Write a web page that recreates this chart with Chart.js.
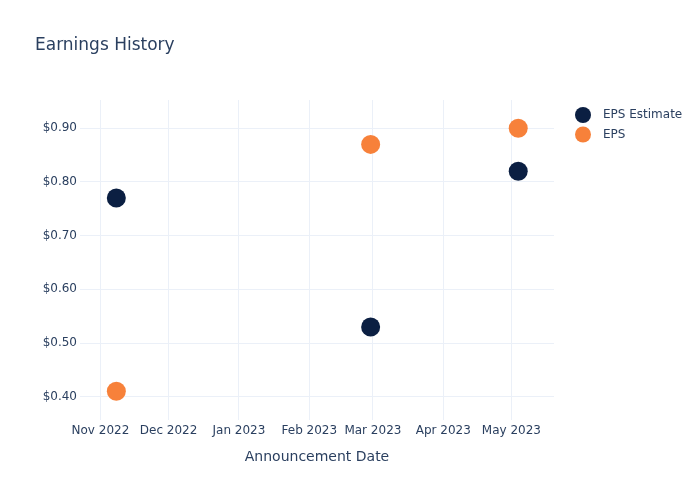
<!DOCTYPE html>
<html>
<head>
<meta charset="utf-8">
<script src="https://cdn.jsdelivr.net/npm/chart.js@4.4.0/dist/chart.umd.min.js"></script>
<style>
  html, body { margin: 0; padding: 0; background: #fff; }
  #wrap { width: 700px; height: 500px; }
</style>
</head>
<body>
<div id="wrap"><canvas id="epsChart" width="700" height="500"></canvas></div>
<script>
// announcement dates and values
const dates = ['2022-11-08', '2023-02-28', '2023-05-04'];
const epsEstimate = [0.77, 0.53, 0.82];
const epsActual = [0.41, 0.87, 0.90];

// axis ticks
const xTickDates = ['2022-11-01', '2022-12-01', '2023-01-01', '2023-02-01', '2023-03-01', '2023-04-01', '2023-05-01'];
const xTickLabels = ['Nov 2022', 'Dec 2022', 'Jan 2023', 'Feb 2023', 'Mar 2023', 'Apr 2023', 'May 2023'];
const yTicks = [0.4, 0.5, 0.6, 0.7, 0.8, 0.9];
const yTickLabels = ['$0.40', '$0.50', '$0.60', '$0.70', '$0.80', '$0.90'];

const seriesNames = ['EPS Estimate', 'EPS'];
const seriesColors = ['#0b1f42', '#f7813a'];

const FONT = '"DejaVu Sans", Verdana, sans-serif';
const TEXT = '#2a3f5f';
const GRID = '#ebf0f8';

const ts = s => new Date(s + 'T00:00:00Z').getTime();
const toPoints = vals => dates.map((d, i) => ({ x: ts(d), y: vals[i] }));

// simple legend drawn at the right, like the original
const sideLegend = {
  id: 'sideLegend',
  afterDraw(chart) {
    const c = chart.ctx;
    c.save();
    c.font = '12px ' + FONT;
    c.textBaseline = 'middle';
    seriesNames.forEach((name, i) => {
      const y = 115 + i * 19.5;
      c.beginPath();
      c.arc(583, y, 8, 0, Math.PI * 2);
      c.fillStyle = seriesColors[i];
      c.fill();
      c.fillStyle = TEXT;
      c.fillText(name, 603, y);
    });
    c.restore();
  }
};

const ctx = document.getElementById('epsChart').getContext('2d');
new Chart(ctx, {
  type: 'scatter',
  data: {
    datasets: [
      {
        label: seriesNames[0],
        data: toPoints(epsEstimate),
        backgroundColor: seriesColors[0],
        borderWidth: 0,
        pointRadius: 9.5,
        pointHoverRadius: 9.5
      },
      {
        label: seriesNames[1],
        data: toPoints(epsActual),
        backgroundColor: seriesColors[1],
        borderWidth: 0,
        pointRadius: 9.5,
        pointHoverRadius: 9.5
      }
    ]
  },
  options: {
    responsive: false,
    animation: false,
    layout: { padding: { left: 35, right: 146, top: 0, bottom: 0 } },
    scales: {
      x: {
        type: 'linear',
        min: Date.UTC(2022, 9, 23),
        max: Date.UTC(2023, 4, 19, 18),
        grid: { color: GRID, drawTicks: false },
        border: { display: false },
        afterBuildTicks: scale => { scale.ticks = xTickDates.map(d => ({ value: ts(d) })); },
        afterFit: scale => { scale.height = 80; },
        ticks: {
          padding: 4,
          maxRotation: 0,
          autoSkip: false,
          color: TEXT,
          font: { family: FONT, size: 12 },
          callback: (v, i) => xTickLabels[i]
        },
        title: {
          display: true,
          text: 'Announcement Date',
          color: TEXT,
          font: { family: FONT, size: 14 },
          padding: { top: 0, bottom: 34.5 }
        }
      },
      y: {
        min: 0.3566,
        max: 0.9527,
        grid: { color: GRID, drawTicks: false },
        border: { display: false },
        afterBuildTicks: scale => { scale.ticks = yTicks.map(v => ({ value: v })); },
        afterFit: scale => { scale.width = 45; },
        ticks: {
          padding: 3,
          color: TEXT,
          font: { family: FONT, size: 12 },
          callback: (v, i) => yTickLabels[i]
        }
      }
    },
    plugins: {
      legend: { display: false },
      tooltip: { enabled: false },
      title: {
        display: true,
        text: 'Earnings History',
        align: 'start',
        color: TEXT,
        font: { family: FONT, size: 17, weight: 'normal' },
        padding: { top: 35, bottom: 44.6 }
      }
    }
  },
  plugins: [sideLegend]
});
</script>
</body>
</html>
